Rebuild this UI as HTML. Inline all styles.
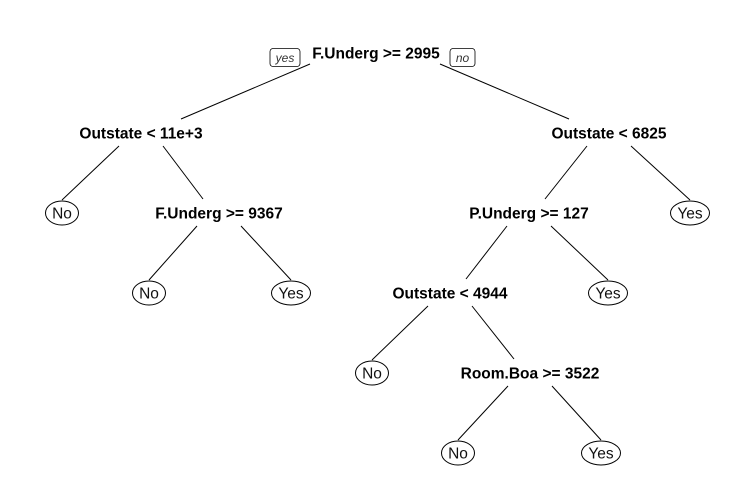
<!DOCTYPE html>
<html><head><meta charset="utf-8"><style>
html,body{margin:0;padding:0;background:#fff;width:756px;height:501px;overflow:hidden}
svg{display:block}
text{font-family:"Liberation Sans",Arial,sans-serif}
</style></head><body>
<svg id="tree" width="756" height="501" viewBox="0 0 756 501">
<g id="edges"></g>
<g id="nodes"></g>
<g><rect x="270" y="48.5" width="30" height="18" rx="3" fill="#fff" stroke="#000" stroke-width="0.8"/><text x="285" y="62" font-size="12" font-style="italic" text-anchor="middle" fill="#333">yes</text></g>
<g><rect x="450" y="48.5" width="25" height="18" rx="3" fill="#fff" stroke="#000" stroke-width="0.8"/><text x="462.5" y="62" font-size="12" font-style="italic" text-anchor="middle" fill="#333">no</text></g>
</svg>
<script>
const nodeLabels=["F.Underg >= 2995","Outstate < 11e+3","Outstate < 6825","No","F.Underg >= 9367","No","Yes","P.Underg >= 127","Yes","Outstate < 4944","Yes","No","Room.Boa >= 3522","No","Yes"];
const nodeX=[376,141,609,62,219,149,291,529,690,450,608,372,530,458,601];
const nodeLevel=[0,1,1,2,2,3,3,2,2,3,3,4,4,5,5];
const nodeLeaf=[0,0,0,1,0,1,1,0,1,0,1,1,0,1,1];
const nodeParent=[-1,0,0,1,1,4,4,2,2,7,7,9,9,12,12];
const NS="http://www.w3.org/2000/svg";
const yOf=l=>53+l*80;
const eg=document.getElementById('edges'),ng=document.getElementById('nodes');
function mk(t,a){const e=document.createElementNS(NS,t);for(const k in a)e.setAttribute(k,a[k]);return e;}
nodeLabels.forEach((lab,i)=>{
  const x=nodeX[i],y=yOf(nodeLevel[i]);
  if(nodeParent[i]>=0){
    const p=nodeParent[i],px=nodeX[p],py=yOf(nodeLevel[p]);
    const left=x<px;
    const sx=p===0?(left?310:440):px+(left?-22:22);
    const sy=py+(p===0?11:13);
    const ey=y-(nodeLeaf[i]?13:14);
    const off=nodeLeaf[i]?0:(p===0?40:16);
    const ex=x+(left?off:-off);
    const ln=mk('line',{x1:sx,y1:sy,x2:ex,y2:ey,stroke:'#000','stroke-width':1});
    
    
    eg.appendChild(ln);
  }
  const g=mk('g',{});
  
  
  if(nodeLeaf[i]){
    const w=lab.length>2?19.5:16.5;
    g.appendChild(mk('ellipse',{cx:x,cy:y,rx:w,ry:12,fill:'#fff',stroke:'#000','stroke-width':1}));
    const t=mk('text',{x:x,y:y+5.5,'font-size':15.5,'text-anchor':'middle',fill:'#111'});
    t.textContent=lab;g.appendChild(t);
  }else{
    const t=mk('text',{x:x,y:y+5.5,'font-size':15.5,'font-weight':'bold','text-anchor':'middle',fill:'#000'});
    t.textContent=lab;g.appendChild(t);
  }
  ng.appendChild(g);
});
</script>
</body></html>
